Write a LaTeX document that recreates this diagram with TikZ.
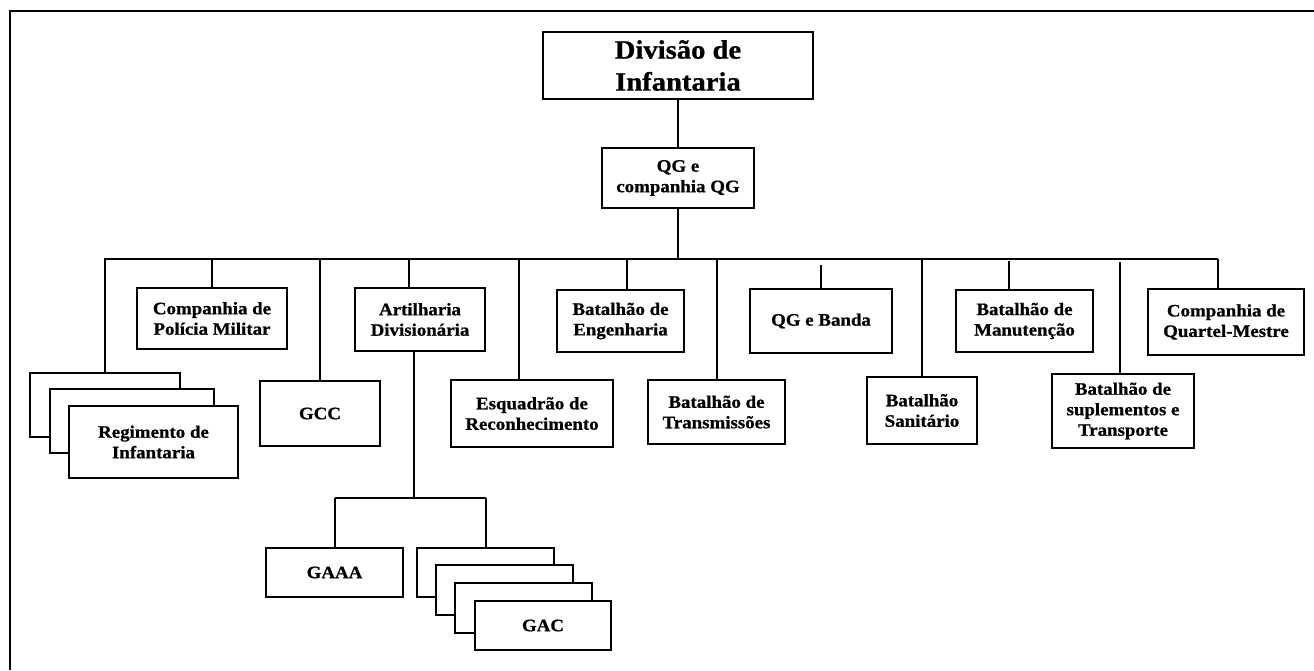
\documentclass[tikz,border=0pt]{standalone}
\usepackage{fontspec}
\setmainfont{Liberation Serif}[FakeStretch=1.08, BoldFeatures={FakeBold=0.8}]
\begin{document}
\begin{tikzpicture}[x=1pt,y=-1pt,
  box/.style={draw=black, line width=2.2pt, fill=white, inner sep=0pt, align=center,
    font=\fontsize{17.5}{20.5}\selectfont\bfseries},
  conn/.style={draw=black, line width=2pt},
  frame/.style={draw=black, line width=2.8pt}]
\useasboundingbox (0,0) rectangle (1314,670);
% frame (top and left only)
\draw[frame] (10,670) -- (10,11) -- (1314,11);

% top
\node[box, minimum width=270, minimum height=67, font=\fontsize{26.5}{32}\selectfont\bfseries] (div) at (678,65.5) {Divisão de\\Infantaria};
\node[box, minimum width=152, minimum height=60] (qg) at (678,178) {QG e\\companhia QG};

% second level
\node[box, minimum width=150, minimum height=64] (reg1) at (105,405) {};
\node[box, minimum width=164, minimum height=64] (reg2) at (132,421) {};
\node[box, minimum width=169, minimum height=72] (reg3) at (153.5,442) {Regimento de\\Infantaria};
\node[box, minimum width=150, minimum height=61] (cpm) at (212,318.5) {Companhia de\\Polícia Militar};
\node[box, minimum width=120, minimum height=65] (gcc) at (320,413.5) {GCC};
\node[box, minimum width=130, minimum height=63] (art) at (420,319.5) {Artilharia\\Divisionária};
\node[box, minimum width=162, minimum height=67] (esq) at (532,413.5) {Esquadrão de\\Reconhecimento};
\node[box, minimum width=127, minimum height=62] (eng) at (620.5,321) {Batalhão de\\Engenharia};
\node[box, minimum width=137, minimum height=64] (tra) at (716.5,412) {Batalhão de\\Transmissões};
\node[box, minimum width=142, minimum height=64] (ban) at (821,321) {QG e Banda};
\node[box, minimum width=110, minimum height=67] (san) at (922,410.5) {Batalhão\\Sanitário};
\node[box, minimum width=137, minimum height=62] (man) at (1024.5,321) {Batalhão de\\Manutenção};
\node[box, minimum width=142, minimum height=74] (sup) at (1123,411) {Batalhão de\\suplementos e\\Transporte};
\node[box, minimum width=156, minimum height=66] (qm) at (1226,322) {Companhia de\\Quartel-Mestre};

% third level
\node[box, minimum width=137, minimum height=49] (gaaa) at (334.5,572.5) {GAAA};
\node[box, minimum width=137, minimum height=49] (gac1) at (485.5,572.5) {};
\node[box, minimum width=137, minimum height=50] (gac2) at (504.5,590) {};
\node[box, minimum width=137, minimum height=50] (gac3) at (523.5,608) {};
\node[box, minimum width=136, minimum height=49] (gac4) at (543,625.5) {GAC};

% connectors
\coordinate (busL) at (104,259);
\coordinate (busR) at (1218,259);
\coordinate (sub) at (414,498);
\draw[conn] (div.south) -- (qg.north);
\draw[conn] (qg.south) -- (qg.south |- busL);
\draw[conn] (busL) -- (busR);
\draw[conn] (reg1.north) -- (reg1.north |- busL);
\draw[conn] (cpm.north) -- (cpm.north |- busL);
\draw[conn] (gcc.north) -- (gcc.north |- busL);
\draw[conn] ([xshift=-11]art.north) -- ([xshift=-11]art.north |- busL);
\draw[conn] ([xshift=-13]esq.north) -- ([xshift=-13]esq.north |- busL);
\draw[conn] ([xshift=6.5]eng.north) -- ([xshift=6.5]eng.north |- busL);
\draw[conn] (tra.north) -- (tra.north |- busL);
\draw[conn] (ban.north) -- ([yshift=-6]ban.north |- busL);
\draw[conn] (san.north) -- (san.north |- busL);
\draw[conn] ([xshift=-15.5]man.north) -- ([xshift=-15.5,yshift=-2]man.north |- busL);
\draw[conn] ([xshift=-3]sup.north) -- ([xshift=-3,yshift=-3]sup.north |- busL);
\draw[conn] (qm.north -| busR) -- (busR);
\draw[conn] ([xshift=-6]art.south) -- (sub);
\draw[conn] (gaaa.north |- sub) -- (gac1.north |- sub);
\draw[conn] (gaaa.north) -- (gaaa.north |- sub);
\draw[conn] (gac1.north) -- (gac1.north |- sub);
\end{tikzpicture}
\end{document}
